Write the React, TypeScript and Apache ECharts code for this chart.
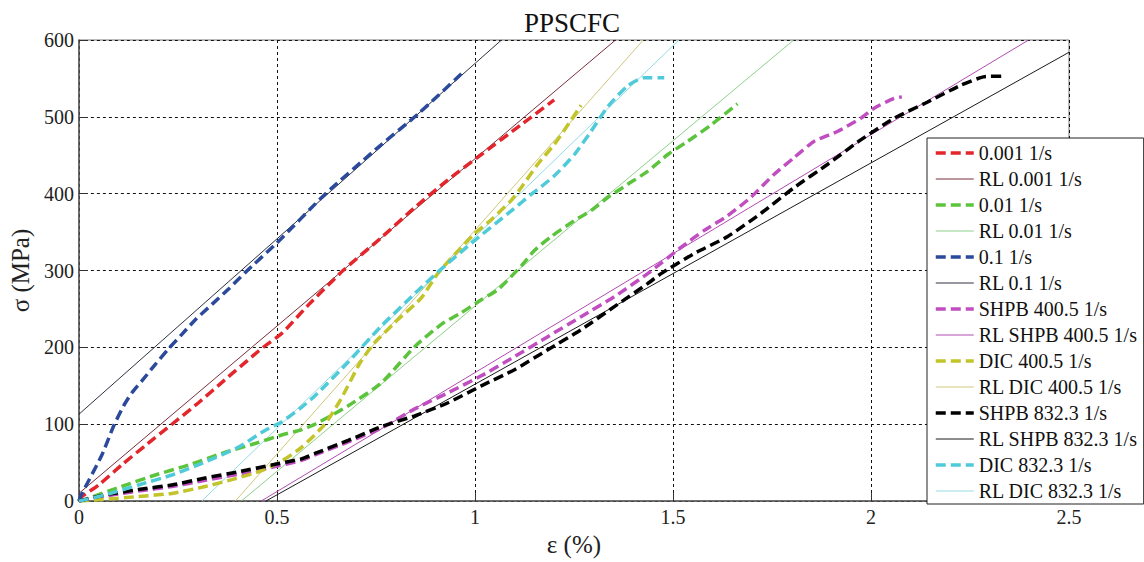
import React, { useEffect, useRef } from "react";
import * as echarts from "echarts";

type P = [number, number];

const xTicks = ["0", "0.5", "1", "1.5", "2", "2.5"];
const yTicks = ["0", "100", "200", "300", "400", "500", "600"];

const legendNames = [
  "0.001 1/s",
  "RL 0.001 1/s",
  "0.01 1/s",
  "RL 0.01 1/s",
  "0.1 1/s",
  "RL 0.1 1/s",
  "SHPB 400.5 1/s",
  "RL SHPB 400.5 1/s",
  "DIC 400.5 1/s",
  "RL DIC 400.5 1/s",
  "SHPB 832.3 1/s",
  "RL SHPB 832.3 1/s",
  "DIC 832.3 1/s",
  "RL DIC 832.3 1/s",
];

const rate0001: P[] = [
  [0, 0], [0.008, 6], [0.05, 21], [0.108, 47], [0.167, 72], [0.235, 100], [0.302, 128],
  [0.369, 158], [0.437, 188], [0.465, 200], [0.512, 218], [0.579, 255], [0.667, 300],
  [0.764, 343], [0.848, 382], [0.932, 418], [1.016, 451], [1.117, 490], [1.2, 522],
];
const rl0001: P[] = [[0, 10], [1.355, 600]];

const rate001: P[] = [
  [0, 0], [0.02, 3], [0.108, 19], [0.193, 34], [0.277, 47], [0.361, 62], [0.445, 75],
  [0.512, 86], [0.563, 93], [0.596, 100], [0.68, 124], [0.764, 154], [0.848, 201],
  [0.915, 230], [0.965, 245], [1.016, 262], [1.058, 275], [1.091, 292], [1.117, 306],
  [1.15, 326], [1.192, 344], [1.251, 365], [1.293, 378], [1.335, 395], [1.385, 412],
  [1.436, 429], [1.487, 451], [1.537, 468], [1.595, 489], [1.663, 517],
];
const rl001: P[] = [[0.41, 0], [1.805, 600]];

const rate01: P[] = [
  [0, 0], [0.004, 6], [0.058, 60], [0.088, 98], [0.113, 124], [0.134, 141], [0.16, 157],
  [0.193, 178], [0.226, 198], [0.26, 217], [0.294, 236], [0.336, 256], [0.38, 277],
  [0.419, 297], [0.5, 336], [0.621, 399], [0.748, 457], [0.857, 504], [0.97, 558],
];
const rl01: P[] = [[0, 113], [1.067, 600]];

const shpb400: P[] = [
  [0, 0], [0.083, 8], [0.15, 13], [0.235, 19], [0.319, 27], [0.402, 35], [0.487, 44],
  [0.562, 53], [0.596, 60], [0.68, 77], [0.764, 95], [0.848, 120], [0.932, 141],
  [1.016, 163], [1.1, 188], [1.184, 214], [1.268, 240], [1.352, 266], [1.436, 296],
  [1.52, 330], [1.578, 352], [1.637, 371], [1.696, 395], [1.755, 425], [1.806, 447],
  [1.856, 468], [1.915, 481], [1.974, 498], [2.007, 511], [2.058, 524], [2.078, 526],
];
const rlShpb400: P[] = [[0.46, 0], [2.398, 600]];

const dic400: P[] = [
  [0, 0], [0.058, 2], [0.15, 6], [0.235, 10], [0.319, 19], [0.386, 28], [0.453, 38],
  [0.512, 52], [0.562, 70], [0.621, 100], [0.663, 134], [0.71, 180], [0.745, 205],
  [0.797, 232], [0.864, 264], [0.906, 296], [0.949, 321], [0.999, 348], [1.041, 366],
  [1.091, 391], [1.117, 408], [1.158, 438], [1.2, 464], [1.234, 489], [1.268, 515],
];
const rlDic400: P[] = [[0.395, 0], [1.425, 600]];

const shpb832: P[] = [
  [0, 0], [0.066, 8], [0.15, 15], [0.235, 21], [0.319, 30], [0.402, 38], [0.487, 47],
  [0.562, 55], [0.596, 62], [0.68, 79], [0.764, 97], [0.848, 111], [0.932, 128],
  [1.016, 150], [1.1, 171], [1.184, 197], [1.268, 223], [1.352, 253], [1.436, 283],
  [1.47, 296], [1.553, 322], [1.637, 344], [1.721, 374], [1.806, 408], [1.89, 438],
  [1.974, 470], [2.058, 498], [2.142, 519], [2.226, 541], [2.284, 552], [2.339, 553],
];
const rlShpb832: P[] = [[0.472, 0], [2.5, 584]];

const dic832: P[] = [
  [0, 0], [0.066, 8], [0.15, 21], [0.235, 34], [0.319, 51], [0.402, 70], [0.47, 92],
  [0.512, 103], [0.562, 122], [0.596, 137], [0.68, 181], [0.764, 228], [0.848, 270],
  [0.915, 302], [0.999, 339], [1.083, 374], [1.142, 399], [1.2, 423], [1.251, 451],
  [1.293, 481], [1.335, 513], [1.385, 540], [1.427, 551], [1.478, 551],
];
const rlDic832: P[] = [[0.31, 0], [1.515, 600]];

const colors = {
  red: "#e3262b",
  redRL: "#7a2e3c",
  green: "#5cc43c",
  greenRL: "#8fd08a",
  blue: "#2b4a9c",
  blueRL: "#2e3140",
  magenta: "#c04ec0",
  magentaRL: "#b24cb2",
  yellow: "#c2c42a",
  yellowRL: "#cfc77a",
  black: "#000000",
  blackRL: "#1a1a1a",
  cyan: "#4ecad8",
  cyanRL: "#93dbe4",
};

const FONT = "Liberation Serif";

function dashed(name: string, data: P[], color: string) {
  return {
    type: "line",
    name,
    data,
    symbol: "none",
    showSymbol: false,
    smooth: 0.2,
    itemStyle: { color },
    lineStyle: { color, width: 3.5, type: [10, 5] },
    z: 3,
  };
}

function thin(name: string, data: P[], color: string) {
  return {
    type: "line",
    name,
    data,
    symbol: "none",
    showSymbol: false,
    itemStyle: { color },
    lineStyle: { color, width: 1, type: "solid" },
    z: 2,
  };
}

export default function App() {
  const ref = useRef<HTMLDivElement>(null);
  useEffect(() => {
    const chart = echarts.init(ref.current!, undefined, { renderer: "svg" });
    chart.setOption({
      animation: false,
      backgroundColor: "#ffffff",
      textStyle: { fontFamily: FONT },
      title: {
        text: "PPSCFC",
        left: "center",
        top: 4,
        textStyle: { fontFamily: FONT, fontSize: 27, fontWeight: "normal", color: "#111" },
      },
      grid: {
        left: 77,
        right: 75,
        top: 40,
        bottom: 55.5,
        show: true,
        borderColor: "#777",
        borderWidth: 1,
        backgroundColor: "transparent",
      },
      legend: {
        orient: "vertical",
        left: 927,
        top: 138,
        backgroundColor: "#ffffff",
        borderColor: "#222",
        borderWidth: 1,
        borderRadius: 0,
        padding: [5, 6, 3, 7],
        itemWidth: 38,
        itemHeight: 14,
        itemGap: 6,
        selectedMode: false,
        itemStyle: { opacity: 0 },
        lineStyle: { width: "inherit", type: "inherit" },
        textStyle: { fontFamily: FONT, fontSize: 20, color: "#111", lineHeight: 20 },
        data: legendNames,
        z: 10,
      },
      xAxis: {
        type: "value",
        min: 0,
        max: 2.5,
        interval: 0.5,
        axisLine: { show: true, onZero: false, lineStyle: { color: "#555", width: 1.5 } },
        axisTick: { show: true, inside: true, length: 8, lineStyle: { color: "#333" } },
        axisLabel: {
          fontFamily: FONT,
          fontSize: 20,
          color: "#222",
          margin: 6,
          formatter: (v: number) => xTicks[Math.round(v / 0.5)] ?? String(v),
        },
        splitLine: { show: true, lineStyle: { color: "#111", type: [3, 3], width: 1 } },
        name: "ε (%)",
        nameLocation: "middle",
        nameGap: 27,
        nameTextStyle: { fontFamily: FONT, fontSize: 25, color: "#222" },
      },
      yAxis: {
        type: "value",
        min: 0,
        max: 600,
        interval: 100,
        axisLine: { show: true, onZero: false, lineStyle: { color: "#555", width: 1.5 } },
        axisTick: { show: true, inside: true, length: 8, lineStyle: { color: "#333" } },
        axisLabel: {
          fontFamily: FONT,
          fontSize: 20,
          color: "#222",
          margin: 5,
          formatter: (v: number) => yTicks[Math.round(v / 100)] ?? String(v),
        },
        splitLine: { show: true, lineStyle: { color: "#111", type: [3, 3], width: 1 } },
        name: "σ (MPa)",
        nameLocation: "middle",
        nameGap: 40,
        nameTextStyle: { fontFamily: FONT, fontSize: 25, color: "#222" },
      },
      series: [
        dashed(legendNames[0], rate0001, colors.red),
        thin(legendNames[1], rl0001, colors.redRL),
        dashed(legendNames[2], rate001, colors.green),
        thin(legendNames[3], rl001, colors.greenRL),
        dashed(legendNames[4], rate01, colors.blue),
        thin(legendNames[5], rl01, colors.blueRL),
        dashed(legendNames[6], shpb400, colors.magenta),
        thin(legendNames[7], rlShpb400, colors.magentaRL),
        dashed(legendNames[8], dic400, colors.yellow),
        thin(legendNames[9], rlDic400, colors.yellowRL),
        dashed(legendNames[10], shpb832, colors.black),
        thin(legendNames[11], rlShpb832, colors.blackRL),
        dashed(legendNames[12], dic832, colors.cyan),
        thin(legendNames[13], rlDic832, colors.cyanRL),
      ],
    });
    return () => chart.dispose();
  }, []);
  return (
    <div
      ref={ref}
      style={{ position: "fixed", left: 0, top: 0, width: 1144, height: 562, background: "#fff" }}
    />
  );
}
